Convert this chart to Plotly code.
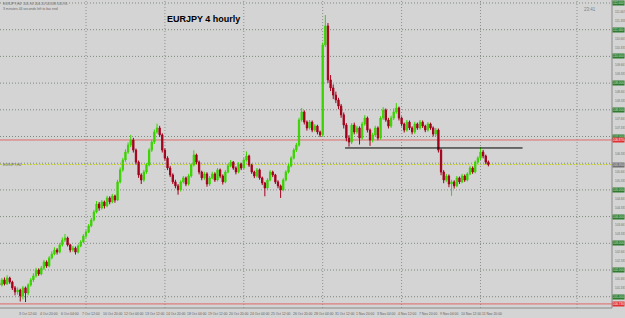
import plotly.graph_objects as go

# ---------------- data (EURJPY, H4 bars; bar index 0 = 3 Oct 2011 12:00) ----------------
bars = list(range(-6, 181))
opens = [101.50,101.44,101.63,101.48,101.70,101.55,101.33,101.18,101.25,101.03,101.33,101.14,101.44,101.63,101.78,102.00,101.85,102.07,102.30,102.15,
         102.45,102.60,102.75,102.67,102.94,103.12,103.20,102.94,102.75,102.82,102.67,102.90,103.05,103.27,103.42,103.65,103.87,104.17,104.47,104.32,
         104.55,104.40,104.70,104.55,104.77,104.62,105.30,105.75,106.12,106.42,106.68,106.87,106.49,106.04,105.56,105.37,105.67,105.93,106.49,106.79,
         107.17,107.32,107.06,106.49,106.19,105.82,105.56,105.30,105.15,105.00,105.30,105.45,105.22,105.52,105.93,106.31,106.04,105.67,105.45,105.60,
         105.22,105.45,105.60,105.37,105.75,105.52,105.30,105.67,105.90,106.04,105.82,105.67,105.97,105.82,106.12,106.27,105.93,105.67,105.52,105.75,
         105.45,105.26,105.07,105.37,105.67,105.56,105.30,105.15,105.00,105.37,105.67,105.90,106.19,106.49,106.68,107.62,107.92,107.54,107.32,107.54,
         107.24,107.39,107.17,107.06,110.43,111.14,109.12,108.82,108.55,108.37,108.14,107.81,107.43,106.94,106.79,107.43,107.17,107.32,106.94,107.47,
         107.69,107.24,106.87,107.06,107.32,106.94,107.69,107.99,107.62,107.39,107.69,107.92,108.07,107.69,107.47,107.24,107.54,107.32,107.17,107.47,
         107.32,107.54,107.39,107.24,107.47,107.32,107.09,107.24,106.49,105.67,105.37,105.52,105.22,105.30,105.15,105.45,105.30,105.52,105.37,105.60,
         105.82,105.67,106.04,106.19,106.42,106.27,106.04]
closes = [101.44,101.63,101.48,101.70,101.55,101.33,101.18,101.25,101.03,101.33,101.14,101.44,101.63,101.78,102.00,101.85,102.07,102.30,102.15,102.45,
          102.60,102.75,102.67,102.94,103.12,103.20,102.94,102.75,102.82,102.67,102.90,103.05,103.27,103.42,103.65,103.87,104.17,104.47,104.32,104.55,
          104.40,104.70,104.55,104.77,104.62,105.30,105.75,106.12,106.42,106.68,106.87,106.49,106.04,105.56,105.37,105.67,105.93,106.49,106.79,107.17,
          107.32,107.06,106.49,106.19,105.82,105.56,105.30,105.15,105.00,105.30,105.45,105.22,105.52,105.93,106.31,106.04,105.67,105.45,105.60,105.22,
          105.45,105.60,105.37,105.75,105.52,105.30,105.67,105.90,106.04,105.82,105.67,105.97,105.82,106.12,106.27,105.93,105.67,105.52,105.75,105.45,
          105.26,105.07,105.37,105.67,105.56,105.30,105.15,105.00,105.37,105.67,105.90,106.19,106.49,106.68,107.62,107.92,107.54,107.32,107.54,107.24,
          107.39,107.17,107.06,110.43,111.14,109.12,108.82,108.55,108.37,108.14,107.81,107.43,106.94,106.79,107.43,107.17,107.32,106.94,107.47,107.69,
          107.24,106.87,107.06,107.32,106.94,107.69,107.99,107.62,107.39,107.69,107.92,108.07,107.69,107.47,107.24,107.54,107.32,107.17,107.47,107.32,
          107.54,107.39,107.24,107.47,107.32,107.09,107.24,106.49,105.67,105.37,105.52,105.22,105.30,105.15,105.45,105.30,105.52,105.37,105.60,105.82,
          105.67,106.04,106.19,106.42,106.27,106.04,105.95]
highs = [101.60,101.70,101.72,101.80,101.75,101.60,101.40,101.35,101.30,101.40,101.38,101.50,101.70,101.88,102.08,102.06,102.15,102.38,102.36,102.52,
         102.70,102.85,102.82,103.02,103.22,103.35,103.25,102.98,102.90,102.88,102.96,103.12,103.34,103.50,103.72,103.95,104.25,104.58,104.55,104.62,
         104.60,104.78,104.76,104.85,104.82,105.38,105.84,106.20,106.52,106.78,107.06,106.95,106.55,106.10,105.62,105.75,106.00,106.56,106.88,107.26,
         107.48,107.40,107.12,106.56,106.26,105.90,105.62,105.38,105.22,105.36,105.52,105.50,105.60,106.00,106.48,106.36,106.10,105.72,105.68,105.66,
         105.52,105.68,105.66,105.82,105.80,105.58,105.74,105.98,106.12,106.08,105.88,106.04,106.02,106.20,106.44,106.32,105.98,105.72,105.82,105.80,
         105.50,105.30,105.44,105.74,105.72,105.60,105.36,105.20,105.44,105.74,105.98,106.26,106.56,106.76,107.70,108.07,107.98,107.60,107.62,107.60,
         107.46,107.44,107.22,110.52,111.55,111.25,109.30,108.95,108.68,108.45,108.22,107.90,107.50,107.05,107.50,107.52,107.40,107.38,107.55,107.80,
         107.75,107.30,107.14,107.40,107.38,107.76,108.10,108.05,107.70,107.78,108.05,108.25,108.12,107.75,107.52,107.62,107.60,107.38,107.55,107.52,
         107.62,107.60,107.44,107.54,107.52,107.38,107.32,107.30,106.55,105.74,105.60,105.58,105.38,105.36,105.52,105.50,105.60,105.58,105.66,105.90,
         105.88,106.10,106.26,106.60,106.50,106.32,106.10]
lows = [101.36,101.38,101.42,101.44,101.48,101.25,101.05,101.08,100.82,100.90,100.80,101.05,101.38,101.55,101.72,101.78,101.80,102.00,102.08,102.10,
        102.40,102.55,102.58,102.62,102.88,103.05,102.88,102.66,102.68,102.58,102.62,102.85,103.00,103.20,103.38,103.60,103.82,104.12,104.22,104.26,
        104.30,104.35,104.46,104.50,104.52,104.58,105.24,105.68,106.05,106.35,106.60,106.40,105.95,105.45,105.22,105.30,105.60,105.88,106.42,106.72,
        107.10,106.98,106.40,106.10,105.74,105.48,105.22,105.06,104.82,104.94,105.24,105.14,105.16,105.46,105.88,105.96,105.58,105.36,105.38,105.12,
        105.15,105.40,105.30,105.32,105.44,105.20,105.25,105.62,105.85,105.75,105.58,105.62,105.74,105.78,106.06,105.86,105.60,105.44,105.46,105.38,
        105.18,104.76,105.00,105.32,105.48,105.22,105.06,104.70,104.95,105.32,105.62,105.84,106.14,106.42,106.62,107.55,107.45,107.22,107.26,107.16,
        107.18,107.08,106.98,107.00,110.35,109.00,108.70,108.40,108.25,108.02,107.70,107.30,106.82,106.62,106.72,107.08,107.10,106.70,106.88,107.40,
        107.15,106.65,106.78,107.00,106.86,106.88,107.62,107.55,107.30,107.32,107.62,107.85,107.60,107.38,107.15,107.18,107.24,107.08,107.10,107.25,
        107.26,107.32,107.16,107.18,107.25,107.00,107.02,106.40,105.55,105.25,105.30,105.10,104.78,105.05,105.10,105.22,105.25,105.30,105.32,105.55,
        105.60,105.62,105.98,106.12,106.18,105.96,105.88]

# tick labels of the time axis (bar index -> text)
time_tick_bars = [-8, 0, 8, 16, 24, 32, 40, 48, 56, 64, 72, 80, 88, 96, 104, 112, 120, 128, 136, 144, 152, 160, 168, 176]
time_tick_text = ["30 Sep 2011", "3 Oct 12:00", "4 Oct 20:00", "6 Oct 04:00", "7 Oct 12:00", "10 Oct 20:00", "12 Oct 04:00",
                  "13 Oct 12:00", "14 Oct 20:00", "18 Oct 04:00", "19 Oct 12:00", "20 Oct 20:00", "24 Oct 04:00", "25 Oct 12:00",
                  "26 Oct 20:00", "28 Oct 04:00", "31 Oct 12:00", "1 Nov 20:00", "3 Nov 04:00", "4 Nov 12:00", "7 Nov 20:00",
                  "9 Nov 04:00", "10 Nov 12:00", "11 Nov 20:00"]
week_start_bars = [27, 57, 87, 117, 147, 177]
extra_vline_bars = [213.7]
grid_levels = [101, 102, 103, 104, 105, 106, 107, 108, 109, 110, 111, 112]
boxed_grid_levels = [101, 102, 103, 104, 105, 107, 108, 109, 110, 111, 112]
sub_levels = [101.333, 101.667, 102.333, 102.667, 103.333, 103.667, 104.333, 104.667, 105.333, 105.667,
              106.333, 107.333, 107.667, 108.333, 108.667, 109.333, 109.667, 110.333, 110.667,
              111.333, 111.667]
red_levels = [106.87, 100.73]
bid_price = 105.95
support_level = 106.57
support_from_bar = 125.5
support_to_bar = 193.0

X_RANGE = [-5.703, 227.0]
Y_RANGE = [100.577, 112.112]

BG = "#d4d4d4"
BULL = "#3ad300"
BEAR = "#a3001b"

fig = go.Figure()
fig.add_trace(go.Candlestick(
    x=bars, open=opens, high=highs, low=lows, close=closes,
    increasing=dict(line=dict(color=BULL, width=1), fillcolor=BULL),
    decreasing=dict(line=dict(color=BEAR, width=1), fillcolor=BEAR),
    whiskerwidth=0, showlegend=False, hoverinfo="skip"))

shapes = []
for lv in grid_levels:
    shapes.append(dict(type="line", xref="paper", x0=0, x1=1, yref="y", y0=lv, y1=lv,
                       line=dict(color="#7d8a7d", width=1, dash="1px,2px"), layer="below"))
for b in week_start_bars + extra_vline_bars:
    shapes.append(dict(type="line", xref="x", x0=b, x1=b, yref="paper", y0=0, y1=1,
                       line=dict(color="#8e8e8e", width=1, dash="1px,2px"), layer="below"))
for lv in red_levels:
    shapes.append(dict(type="line", xref="paper", x0=0, x1=1, yref="y", y0=lv, y1=lv,
                       line=dict(color="#e06a6a", width=1), layer="below"))
shapes.append(dict(type="line", xref="paper", x0=0, x1=1, yref="y", y0=bid_price, y1=bid_price,
                   line=dict(color="#c6d038", width=1, dash="2px,1px"), layer="below"))
shapes.append(dict(type="line", xref="x", x0=support_from_bar, x1=support_to_bar, yref="y",
                   y0=support_level, y1=support_level, line=dict(color="#000000", width=1), layer="above"))
# axis frame (right price scale separator and bottom time scale line)
shapes.append(dict(type="line", xref="paper", x0=1, x1=1, yref="paper", y0=0, y1=1,
                   line=dict(color="#8a8a8a", width=1)))
shapes.append(dict(type="line", xref="paper", x0=0, x1=1, yref="paper", y0=0, y1=0,
                   line=dict(color="#8a8a8a", width=1)))

FONT = "Liberation Sans, Arial, sans-serif"
SMALL = 3.4
AX = 3.0
ann = []
ann.append(dict(text="<b>EURJPY 4 hourly</b>", xref="paper", yref="paper", x=203/612, y=1-19/308,
                xanchor="center", yanchor="middle", showarrow=False,
                font=dict(family=FONT, size=9, color="#000000")))
ann.append(dict(text="EURJPY,H4  105.94 106.10 105.88 105.95", xref="paper", yref="paper", x=0, y=1,
                xanchor="left", yanchor="top", showarrow=False, xshift=1,
                font=dict(family=FONT, size=SMALL, color="#6a6a6a")))
ann.append(dict(text="3 minutes 44 seconds left to bar end", xref="paper", yref="paper", x=0, y=1,
                xanchor="left", yanchor="top", showarrow=False, xshift=1, yshift=-5,
                font=dict(family=FONT, size=SMALL, color="#6a6a6a")))
ann.append(dict(text="23:41", xref="paper", yref="paper", x=590/612, y=1-9/308,
                xanchor="center", yanchor="middle", showarrow=False,
                font=dict(family=FONT, size=4.5, color="#808080")))
ann.append(dict(text="EURJPY,H4", xref="paper", yref="y", x=0, y=bid_price,
                xanchor="left", yanchor="middle", showarrow=False, xshift=1,
                font=dict(family=FONT, size=SMALL, color="#6a6a6a")))

for b, t in zip(time_tick_bars, time_tick_text):
    ann.append(dict(text=t, xref="x", yref="paper", x=b, y=0, xanchor="left", yanchor="top",
                    showarrow=False, xshift=2, yshift=-2,
                    font=dict(family=FONT, size=SMALL, color="#606060")))

for lv in boxed_grid_levels:
    ann.append(dict(text=f"{lv:.3f}", xref="paper", yref="y", x=1, y=lv, xanchor="left", yanchor="middle",
                    showarrow=False, xshift=0, bgcolor="#2f7a2f", borderpad=0,
                    font=dict(family=FONT, size=AX, color="#cfe8cf")))
for lv in sub_levels:
    ann.append(dict(text=f"{lv:.3f}", xref="paper", yref="y", x=1, y=lv, xanchor="left", yanchor="middle",
                    showarrow=False, xshift=0.5,
                    font=dict(family=FONT, size=AX, color="#707070")))
for lv in red_levels:
    ann.append(dict(text=f"{lv:.3f}", xref="paper", yref="y", x=1, y=lv, xanchor="left", yanchor="middle",
                    showarrow=False, xshift=0, bgcolor="#e03030", borderpad=0,
                    font=dict(family=FONT, size=AX, color="#ffffff")))
ann.append(dict(text=f"{bid_price:.3f}", xref="paper", yref="y", x=1, y=bid_price, xanchor="left", yanchor="middle",
                showarrow=False, xshift=0, bgcolor="#707070", borderpad=0,
                font=dict(family=FONT, size=AX, color="#e0e0e0")))

fig.update_layout(
    width=625, height=318,
    margin=dict(l=0, r=13, t=0, b=10),
    paper_bgcolor=BG, plot_bgcolor=BG,
    shapes=shapes, annotations=ann,
    showlegend=False,
    xaxis=dict(range=X_RANGE, showgrid=False, zeroline=False, showticklabels=False,
               rangeslider=dict(visible=False), fixedrange=True),
    yaxis=dict(range=Y_RANGE, showgrid=False, zeroline=False, showticklabels=False, fixedrange=True),
)

fig.write_html("out.html")
